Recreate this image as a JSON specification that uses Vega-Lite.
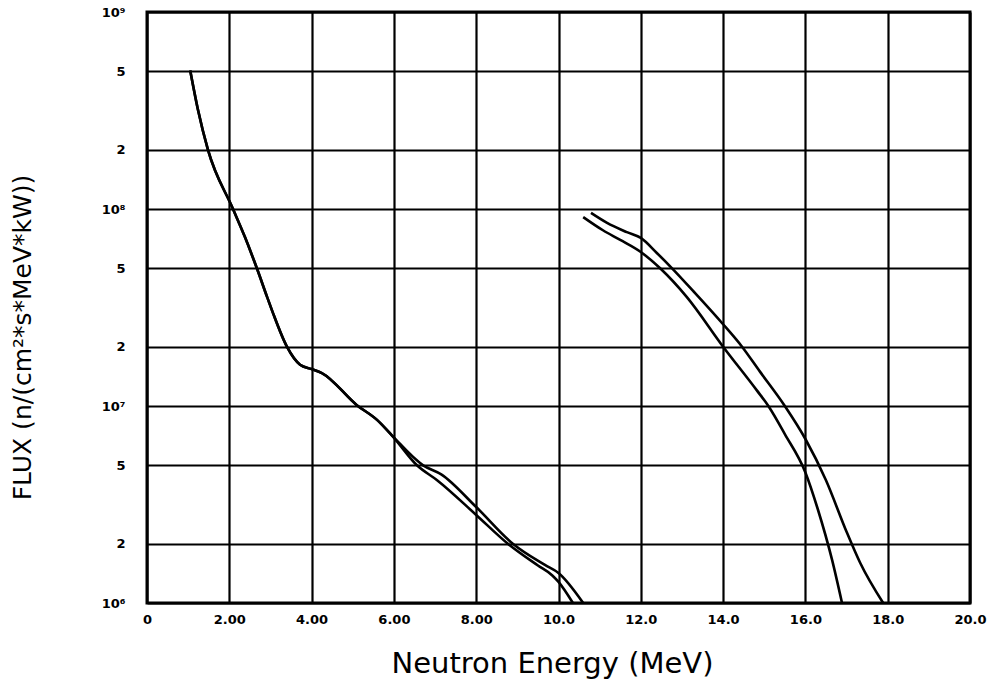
{
  "$schema": "https://vega.github.io/schema/vega-lite/v6.json",
  "width": 823,
  "height": 591,
  "autosize": {"type": "none"},
  "padding": {"left": 147, "top": 12, "right": 29, "bottom": 76},
  "background": "white",
  "config": {
    "view": {"stroke": "black", "strokeWidth": 3},
    "axis": {"gridColor": "black", "gridOpacity": 1, "gridWidth": 2.2, "ticks": false, "domain": false, "labelColor": "black", "titleColor": "black", "labelFont": "DejaVu Sans", "labelFontWeight": "bold", "labelFontSize": 13}
  },
  "data": {"values": [
    {"series": "A", "E": 1.05, "flux": 5.05e8},
    {"series": "A", "E": 1.24, "flux": 3.18e8},
    {"series": "A", "E": 1.48, "flux": 2.0e8},
    {"series": "A", "E": 2.09, "flux": 1.0e8},
    {"series": "A", "E": 2.38, "flux": 7.2e7},
    {"series": "A", "E": 2.67, "flux": 5.0e7},
    {"series": "A", "E": 2.92, "flux": 3.57e7},
    {"series": "A", "E": 3.06, "flux": 2.97e7},
    {"series": "A", "E": 3.40, "flux": 2.0e7},
    {"series": "A", "E": 3.72, "flux": 1.62e7},
    {"series": "A", "E": 4.0, "flux": 1.54e7},
    {"series": "A", "E": 4.25, "flux": 1.47e7},
    {"series": "A", "E": 5.1, "flux": 1.01e7},
    {"series": "A", "E": 5.59, "flux": 8.5e6},
    {"series": "A", "E": 5.95, "flux": 7.1e6},
    {"series": "A", "E": 6.56, "flux": 5.0e6},
    {"series": "A", "E": 7.05, "flux": 4.2e6},
    {"series": "A", "E": 8.0, "flux": 2.8e6},
    {"series": "A", "E": 8.77, "flux": 2.0e6},
    {"series": "A", "E": 9.5, "flux": 1.55e6},
    {"series": "A", "E": 9.85, "flux": 1.38e6},
    {"series": "A", "E": 10.0, "flux": 1.28e6},
    {"series": "A", "E": 10.35, "flux": 1.0e6},
    {"series": "B", "E": 1.05, "flux": 5.05e8},
    {"series": "B", "E": 1.24, "flux": 3.18e8},
    {"series": "B", "E": 1.48, "flux": 2.0e8},
    {"series": "B", "E": 2.09, "flux": 1.0e8},
    {"series": "B", "E": 2.38, "flux": 7.2e7},
    {"series": "B", "E": 2.67, "flux": 5.0e7},
    {"series": "B", "E": 2.92, "flux": 3.57e7},
    {"series": "B", "E": 3.06, "flux": 2.97e7},
    {"series": "B", "E": 3.40, "flux": 2.0e7},
    {"series": "B", "E": 3.72, "flux": 1.62e7},
    {"series": "B", "E": 4.0, "flux": 1.54e7},
    {"series": "B", "E": 4.25, "flux": 1.47e7},
    {"series": "B", "E": 5.1, "flux": 1.01e7},
    {"series": "B", "E": 5.59, "flux": 8.5e6},
    {"series": "B", "E": 5.95, "flux": 7.1e6},
    {"series": "B", "E": 6.71, "flux": 5.0e6},
    {"series": "B", "E": 7.15, "flux": 4.5e6},
    {"series": "B", "E": 8.0, "flux": 3.07e6},
    {"series": "B", "E": 8.89, "flux": 2.0e6},
    {"series": "B", "E": 9.67, "flux": 1.56e6},
    {"series": "B", "E": 10.0, "flux": 1.42e6},
    {"series": "B", "E": 10.6, "flux": 1.0e6},
    {"series": "C", "E": 10.6, "flux": 9.1e7},
    {"series": "C", "E": 11.08, "flux": 7.8e7},
    {"series": "C", "E": 11.5, "flux": 6.97e7},
    {"series": "C", "E": 12.0, "flux": 6.05e7},
    {"series": "C", "E": 12.47, "flux": 5.0e7},
    {"series": "C", "E": 13.12, "flux": 3.57e7},
    {"series": "C", "E": 14.0, "flux": 2.0e7},
    {"series": "C", "E": 14.82, "flux": 1.2e7},
    {"series": "C", "E": 15.1, "flux": 1.0e7},
    {"series": "C", "E": 15.5, "flux": 7.2e6},
    {"series": "C", "E": 16.0, "flux": 4.6e6},
    {"series": "C", "E": 16.3, "flux": 3.0e6},
    {"series": "C", "E": 16.65, "flux": 1.65e6},
    {"series": "C", "E": 16.89, "flux": 1.0e6},
    {"series": "D", "E": 10.79, "flux": 9.55e7},
    {"series": "D", "E": 11.18, "flux": 8.5e7},
    {"series": "D", "E": 11.66, "flux": 7.63e7},
    {"series": "D", "E": 12.0, "flux": 7.13e7},
    {"series": "D", "E": 12.39, "flux": 5.98e7},
    {"series": "D", "E": 12.76, "flux": 5.0e7},
    {"series": "D", "E": 13.27, "flux": 3.84e7},
    {"series": "D", "E": 14.0, "flux": 2.6e7},
    {"series": "D", "E": 14.46, "flux": 2.0e7},
    {"series": "D", "E": 14.9, "flux": 1.49e7},
    {"series": "D", "E": 15.5, "flux": 1.0e7},
    {"series": "D", "E": 16.0, "flux": 6.8e6},
    {"series": "D", "E": 16.5, "flux": 4.2e6},
    {"series": "D", "E": 17.0, "flux": 2.3e6},
    {"series": "D", "E": 17.33, "flux": 1.6e6},
    {"series": "D", "E": 17.89, "flux": 1.0e6}
  ]},
  "mark": {"type": "line", "color": "black", "strokeWidth": 2.6, "interpolate": "monotone", "clip": true},
  "encoding": {
    "x": {
      "field": "E", "type": "quantitative",
      "scale": {"domain": [0, 20], "nice": false, "zero": false},
      "axis": {
        "values": [0, 2, 4, 6, 8, 10, 12, 14, 16, 18, 20],
        "labelExpr": "datum.value == 0 ? '0' : datum.value < 10 ? format(datum.value, '.2f') : format(datum.value, '.1f')",
        "labelPadding": 10,
        "labelFlush": false,
        "title": "Neutron Energy (MeV)",
        "titleFont": "DejaVu Sans",
        "titleFontWeight": "normal",
        "titleFontSize": 29,
        "titleX": 405,
        "titleY": 60,
        "titleBaseline": "middle",
        "titleAlign": "center"
      }
    },
    "y": {
      "field": "flux", "type": "quantitative",
      "scale": {"type": "log", "domain": [1e6, 1e9], "nice": false},
      "axis": {
        "values": [1e6, 2e6, 5e6, 1e7, 2e7, 5e7, 1e8, 2e8, 5e8, 1e9],
        "labelExpr": "datum.value == 1e6 ? '10⁶' : datum.value == 1e7 ? '10⁷' : datum.value == 1e8 ? '10⁸' : datum.value == 1e9 ? '10⁹' : (datum.value / pow(10, floor(log(datum.value) / LN10 + 1e-9)) < 3 ? '2' : '5')",
        "labelPadding": 22,
        "labelFlush": false,
        "title": "FLUX (n/(cm²*s*MeV*kW))",
        "titleFont": "DejaVu Sans",
        "titleFontWeight": "normal",
        "titleFontSize": 25,
        "titleAngle": -90,
        "titleX": -125,
        "titleY": 325,
        "titleBaseline": "middle",
        "titleAlign": "center"
      }
    },
    "detail": {"field": "series"}
  }
}
